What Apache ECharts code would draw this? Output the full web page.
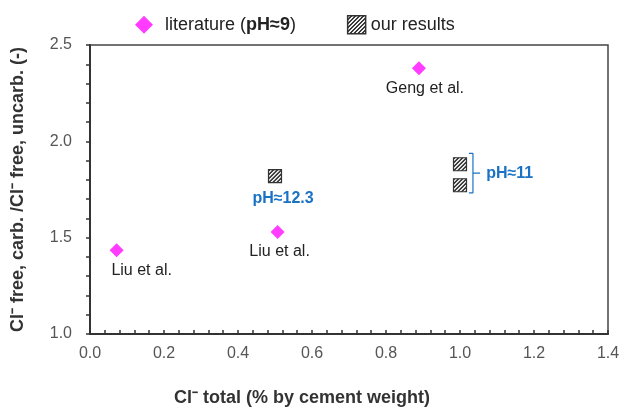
<!DOCTYPE html>
<html>
<head>
<meta charset="utf-8">
<script src="https://cdn.jsdelivr.net/npm/echarts@6/dist/echarts.min.js"></script>
<style>
  html, body { margin: 0; padding: 0; background: #fff; }
  #chart { width: 620px; height: 410px; }
</style>
</head>
<body>
<div id="chart"></div>
<script>
// literature points (pH≈9)
var litX = [0.072, 0.507, 0.889];
var litY = [1.435, 1.53, 2.379];
var litNames = ['Liu et al.', 'Liu et al.', 'Geng et al.'];

// our results
var ourX = [0.5, 1.0, 1.0];
var ourY = [1.819, 1.881, 1.772];
var ourNames = ['pH≈12.3', '', ''];

// bracket grouping the two pH≈11 points
var bracketX = [1.024, 1.035, 1.035, 1.024];
var bracketY = [1.938, 1.938, 1.733, 1.733];
var bracketTickX = [1.035, 1.054];
var bracketTickY = [1.835, 1.835];
var bracketLabel = 'pH≈11';

var xTicks = [0, 1.4, 0.2];
var yTicks = [1.0, 2.5, 0.5];

var FONT = 'Liberation Sans, Arial, sans-serif';
var BLUE = '#1a72c4';
var MAGENTA = '#ff3cff';
var SQ = 13;

// hatched fill, scale = how much the tile is shrunk before drawing
function hatchPattern(scale) {
  var n = 16;
  var c = document.createElement('canvas');
  c.width = n; c.height = n;
  var g = c.getContext('2d');
  g.fillStyle = '#f2f2f2';
  g.fillRect(0, 0, n, n);
  g.strokeStyle = '#3a3a3a';
  g.lineWidth = 6;
  g.beginPath();
  g.moveTo(-2, n + 2); g.lineTo(n + 2, -2);
  g.moveTo(-2, 2); g.lineTo(2, -2);
  g.moveTo(n - 2, n + 2); g.lineTo(n + 2, n - 2);
  g.stroke();
  return { image: c, repeat: 'repeat', scaleX: scale, scaleY: scale };
}

var litOffsets = [[25, 0], [2, 0], [6, 0]];
var ourOffsets = [[8, 0], [0, 0], [0, 0]];

var litData = litX.map(function(x, i) {
  return {
    value: [x, litY[i]],
    name: litNames[i],
    label: { offset: litOffsets[i] }
  };
});
var ourData = ourX.map(function(x, i) {
  return {
    value: [x, ourY[i]],
    name: ourNames[i],
    label: { show: !!ourNames[i], offset: ourOffsets[i] }
  };
});

var chart = echarts.init(document.getElementById('chart'));
chart.setOption({
  animation: false,
  textStyle: { fontFamily: FONT },
  grid: {
    left: 90, right: 12, top: 45, bottom: 76,
    outerBoundsMode: 'none',
    show: true, borderColor: '#444', borderWidth: 1.5
  },
  legend: {
    left: 130, top: 10,
    itemWidth: 18, itemHeight: 18,
    itemGap: 51,
    data: [
      { name: 'literature', icon: 'diamond' },
      {
        name: 'our results', icon: 'rect',
        itemStyle: { color: hatchPattern(0.25), borderColor: '#333', borderWidth: 1.5 }
      }
    ],
    formatter: function(name) {
      if (name === 'literature') return '{g|}{n|literature (}{b|pH≈9}{n|)}';
      return '{n|' + name + '}';
    },
    textStyle: {
      rich: {
        g: { width: 7 },
        n: { fontSize: 18, color: '#222', fontFamily: FONT },
        b: { fontSize: 18, color: '#222', fontWeight: 'bold', fontFamily: FONT }
      }
    }
  },
  xAxis: {
    type: 'value',
    min: xTicks[0], max: xTicks[1], interval: xTicks[2],
    name: 'Cl⁻ total (% by cement weight)',
    nameLocation: 'middle', nameGap: 55,
    nameTextStyle: { fontSize: 18, fontWeight: 'bold', color: '#333', padding: [0, 94, 0, 0] },
    axisLine: { lineStyle: { color: '#333', width: 2 } },
    axisTick: { inside: true, length: 4, lineStyle: { color: '#333', width: 1.5 } },
    minorTick: { show: true, splitNumber: 5, length: 4, lineStyle: { color: '#333', width: 1.5 } },
    axisLabel: {
      fontSize: 16, color: '#555', margin: 12,
      formatter: function(v) { return v.toFixed(1); }
    },
    splitLine: { show: false }
  },
  yAxis: {
    type: 'value',
    min: yTicks[0], max: yTicks[1], interval: yTicks[2],
    name: 'Cl⁻ free, carb. /Cl⁻ free, uncarb. (-)',
    nameLocation: 'middle', nameGap: 63,
    nameTextStyle: { fontSize: 18, fontWeight: 'bold', color: '#333' },
    axisLine: { lineStyle: { color: '#333', width: 2 } },
    axisTick: { inside: false, length: 4, lineStyle: { color: '#333', width: 1.5 } },
    minorTick: { show: true, splitNumber: 5, length: 4, lineStyle: { color: '#333', width: 1.5 } },
    axisLabel: {
      fontSize: 16, color: '#555', margin: 18,
      formatter: function(v) { return v.toFixed(1); }
    },
    splitLine: { show: false }
  },
  series: [
    {
      name: 'literature',
      type: 'scatter',
      symbol: 'diamond',
      symbolSize: 14,
      itemStyle: { color: MAGENTA, opacity: 1 },
      label: {
        show: true, position: 'bottom', distance: 5,
        formatter: '{b}', fontSize: 16, color: '#222'
      },
      data: litData
    },
    {
      name: 'our results',
      type: 'scatter',
      symbol: 'rect',
      symbolSize: SQ,
      // symbol paths are drawn at unit size and scaled by SQ/2
      itemStyle: { color: hatchPattern(0.25 * 2 / SQ), borderColor: '#333', borderWidth: 1.2, opacity: 1 },
      label: {
        show: true, position: 'bottom', distance: 7,
        formatter: '{b}', fontSize: 16, fontWeight: 'bold', color: BLUE
      },
      data: ourData
    },
    {
      type: 'line',
      silent: true,
      symbol: 'none',
      lineStyle: { color: BLUE, width: 1.2 },
      data: bracketX.map(function(x, i) { return [x, bracketY[i]]; })
    },
    {
      type: 'line',
      silent: true,
      symbol: 'none',
      lineStyle: { color: BLUE, width: 1.2 },
      data: bracketTickX.map(function(x, i) { return [x, bracketTickY[i]]; })
    },
    {
      // label for the bracket, anchored at the end of its middle tick
      type: 'scatter',
      silent: true,
      symbolSize: 0.5,
      itemStyle: { color: BLUE, opacity: 1 },
      label: {
        show: true, position: 'right', distance: 6,
        formatter: bracketLabel, fontSize: 16, fontWeight: 'bold', color: BLUE
      },
      data: [[bracketTickX[bracketTickX.length - 1], bracketTickY[bracketTickY.length - 1]]]
    }
  ]
});

window.addEventListener('resize', function() { chart.resize(); });
</script>
</body>
</html>
